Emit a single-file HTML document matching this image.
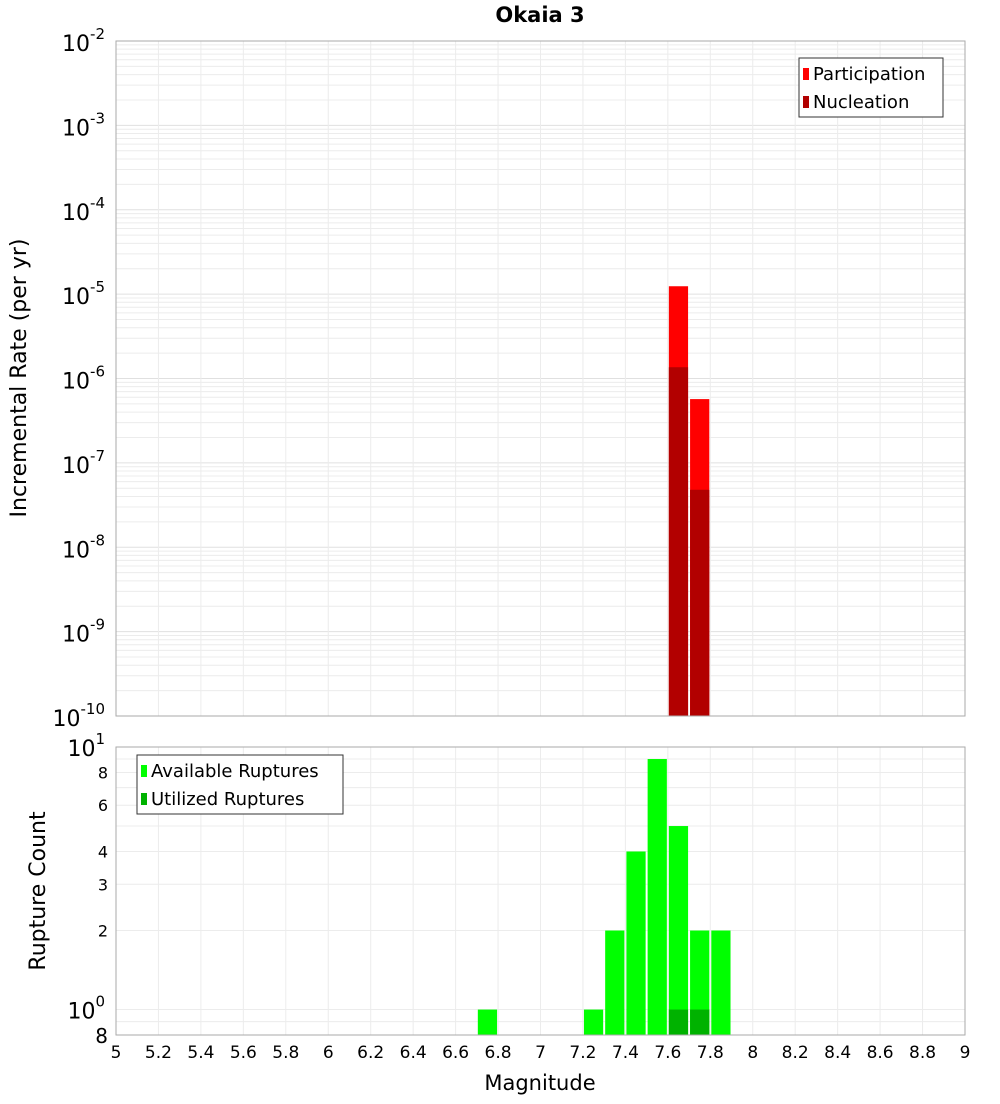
<!DOCTYPE html>
<html><head><meta charset="utf-8"><style>
body{margin:0;background:#fff;font-family:"DejaVu Sans","Liberation Sans",sans-serif}
svg text{font-family:"DejaVu Sans","Liberation Sans",sans-serif}
</style></head><body>
<svg id="c" width="1000" height="1100" xmlns="http://www.w3.org/2000/svg">
<text x="540" y="22" text-anchor="middle" font-size="21" font-weight="bold">Okaia 3</text>
</svg>
<script>
const magBins=[7.65,7.75];
const participation=[1.24e-5,5.7e-7];
const nucleation=[1.36e-6,4.8e-8];
const countBins=[6.75,7.25,7.35,7.45,7.55,7.65,7.75,7.85];
const available=[1,1,2,4,9,5,2,2];
const utilBins=[7.65,7.75];
const utilized=[1,1];
const xTicks=[5,5.2,5.4,5.6,5.8,6,6.2,6.4,6.6,6.8,7,7.2,7.4,7.6,7.8,8,8.2,8.4,8.6,8.8,9];
const topExps=[-10,-9,-8,-7,-6,-5,-4,-3,-2];
const botLabels=[2,3,4,6,8];

const svg=document.getElementById('c');
const NS='http://www.w3.org/2000/svg';
function mk(t,a,p){const e=document.createElementNS(NS,t);for(const k in a)e.setAttribute(k,a[k]);(p||svg).appendChild(e);return e;}
const X0=116,X1=965;
const x=v=>X0+(v-5)/4*(X1-X0);
const T0=41,T1=716;
const yT=v=>T1-(Math.log10(v)+10)/8*(T1-T0);
const B0=747,B1=1035;
const lb=Math.log10(0.8),lt=1;
const yB=v=>B1-(Math.log10(v)-lb)/(lt-lb)*(B1-B0);

// top grid
const gT=mk('g',{});

for(let e=-10;e<-2;e++)for(let m=1;m<10;m++){const y=yT(m*Math.pow(10,e));mk('line',{x1:X0,x2:X1,y1:y,y2:y,stroke:m==1?'#e0e0e0':'#ececec','stroke-width':1},gT);}
xTicks.forEach(t=>{const xx=x(t);mk('line',{x1:xx,x2:xx,y1:T0,y2:T1,stroke:'#ececec'},gT);mk('line',{x1:xx,x2:xx,y1:B0,y2:B1,stroke:'#ececec'},gT);});
for(let v of [0.8,0.9,1,2,3,4,5,6,7,8,9,10]){const y=yB(v);mk('line',{x1:X0,x2:X1,y1:y,y2:y,stroke:'#ececec'},gT);}

// top bars
participation.forEach((v,i)=>{const r=mk('rect',{x:x(magBins[i]-0.05)+1,y:yT(v),width:x(0.1+5)-X0-2,height:T1-yT(v),fill:'#ff0000'});
});
nucleation.forEach((v,i)=>{const r=mk('rect',{x:x(magBins[i]-0.05)+1,y:yT(v),width:x(0.1+5)-X0-2,height:T1-yT(v),fill:'#b20000'});
});
// bottom bars
available.forEach((v,i)=>{const r=mk('rect',{x:x(countBins[i]-0.05)+1,y:yB(v),width:x(0.1+5)-X0-2,height:B1-yB(v),fill:'#00ff00'});
});
utilized.forEach((v,i)=>{const r=mk('rect',{x:x(utilBins[i]-0.05)+1,y:yB(v),width:x(0.1+5)-X0-2,height:B1-yB(v),fill:'#00b200'});
});

// frames
mk('rect',{x:X0,y:T0,width:X1-X0,height:T1-T0,fill:'none',stroke:'#aaa'});
mk('rect',{x:X0,y:B0,width:X1-X0,height:B1-B0,fill:'none',stroke:'#aaa'});

// top y labels
topExps.forEach(e=>{const y=yT(Math.pow(10,e));const t=mk('text',{x:105,y:y+10,'text-anchor':'end','font-size':22});

t.textContent='10';const s=mk('tspan',{dy:-12,'font-size':15},t);s.textContent=String(e);});
// bottom labels
[[1,'0'],[10,'1']].forEach(([v,e])=>{const y=yB(v);const t=mk('text',{x:105,y:y+9,'text-anchor':'end','font-size':22});

t.textContent='10';const s=mk('tspan',{dy:-12,'font-size':15},t);s.textContent=e;});
botLabels.forEach(v=>{const t=mk('text',{x:108,y:yB(v)+6,'text-anchor':'end','font-size':16});
t.textContent=v;});
{const t=mk('text',{x:108,y:1043,'text-anchor':'end','font-size':20});t.textContent='8';}
// x labels
xTicks.forEach(v=>{const t=mk('text',{x:x(v),y:1058,'text-anchor':'middle','font-size':17});
t.textContent=String(v);});
{const t=mk('text',{x:540,y:1090,'text-anchor':'middle','font-size':21});t.textContent='Magnitude';}
{const t=mk('text',{x:0,y:0,'text-anchor':'middle','font-size':22,transform:'translate(26,378) rotate(-90)'});t.textContent='Incremental Rate (per yr)';}
{const t=mk('text',{x:0,y:0,'text-anchor':'middle','font-size':22,transform:'translate(45,891) rotate(-90)'});t.textContent='Rupture Count';}

// legends
function legend(x0,y0,w,h,items,name){const g=mk('g',{});
mk('rect',{x:x0,y:y0,width:w,height:h,fill:'#fff',stroke:'#333'},g);
items.forEach(([c,l],i)=>{mk('rect',{x:x0+4,y:y0+10+i*28,width:6,height:12,fill:c},g);const t=mk('text',{x:x0+14,y:y0+22+i*28,'font-size':18},g);t.textContent=l;});}
legend(799,58,144,59,[['#ff0000','Participation'],['#b20000','Nucleation']],'top-legend');
legend(137,755,206,59,[['#00ff00','Available Ruptures'],['#00b200','Utilized Ruptures']],'bottom-legend');
</script>
</body></html>
